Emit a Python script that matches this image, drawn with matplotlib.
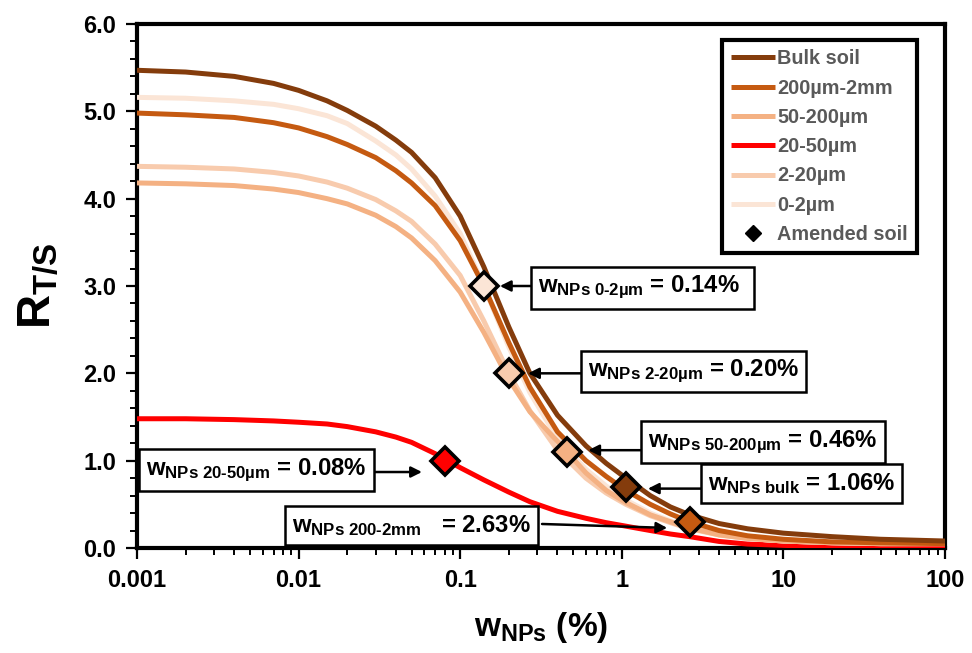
import matplotlib
matplotlib.use("Agg")
import matplotlib.pyplot as plt
from matplotlib.ticker import MultipleLocator, LogLocator, NullFormatter
from matplotlib.lines import Line2D

plt.rcParams['font.family'] = ['Liberation Sans', 'DejaVu Sans']
plt.rcParams['font.weight'] = 'bold'
plt.rcParams['mathtext.fontset'] = 'custom'
plt.rcParams['mathtext.rm'] = 'Liberation Sans:bold'
plt.rcParams['mathtext.bf'] = 'Liberation Sans:bold'
plt.rcParams['mathtext.it'] = 'Liberation Sans:bold'

w = [0.001, 0.002, 0.004, 0.007, 0.01, 0.015, 0.02, 0.03, 0.04, 0.05, 0.07,
     0.1, 0.14, 0.2, 0.27, 0.4, 0.6, 0.8, 1.06, 1.5, 2, 2.63, 4, 6, 10, 20,
     40, 100]

bulk = [5.47, 5.45, 5.4, 5.32, 5.24, 5.12, 5.01, 4.83, 4.67, 4.53, 4.24,
        3.8, 3.22, 2.53, 2.0, 1.52, 1.17, 0.97, 0.8, 0.6, 0.47, 0.38, 0.28,
        0.22, 0.17, 0.13, 0.1, 0.08]
s200_2mm = [4.98, 4.96, 4.93, 4.87, 4.81, 4.71, 4.62, 4.47, 4.32, 4.18, 3.92,
            3.52, 3.0, 2.35, 1.84, 1.33, 1.0, 0.82, 0.66, 0.5, 0.39, 0.3, 0.2,
            0.14, 0.1, 0.07, 0.06, 0.05]
s50_200 = [4.18, 4.17, 4.15, 4.11, 4.07, 4.0, 3.94, 3.81, 3.68, 3.55, 3.29,
           2.93, 2.47, 1.93, 1.56, 1.22, 0.86, 0.66, 0.52, 0.38, 0.3, 0.23,
           0.15, 0.11, 0.08, 0.06, 0.05, 0.05]
s20_50 = [1.48, 1.48, 1.47, 1.455, 1.44, 1.42, 1.39, 1.33, 1.27, 1.21, 1.08,
          0.92, 0.78, 0.64, 0.53, 0.42, 0.34, 0.29, 0.25, 0.2, 0.16, 0.13,
          0.075, 0.045, 0.03, 0.015, 0.01, 0.005]
s2_20 = [4.37, 4.36, 4.34, 4.3, 4.26, 4.19, 4.12, 3.99, 3.86, 3.74, 3.48,
         3.12, 2.6, 2.0, 1.57, 1.12, 0.8, 0.63, 0.5, 0.37, 0.29, 0.22, 0.15,
         0.11, 0.08, 0.06, 0.05, 0.05]
s0_2 = [5.16, 5.15, 5.12, 5.08, 5.03, 4.95, 4.86, 4.66, 4.5, 4.34, 4.03,
        3.6, 3.0, 2.3, 1.78, 1.25, 0.9, 0.71, 0.55, 0.4, 0.31, 0.24, 0.16,
        0.11, 0.08, 0.06, 0.05, 0.05]

# amended soil points
amend_w = [0.14, 0.20, 0.46, 1.06, 2.63, 0.08]
amend_r = [3.0, 2.0, 1.1, 0.7, 0.3, 1.0]
amend_names = ['0-2µm', '2-20µm', '50-200µm', 'bulk', '200-2mm', '20-50µm']
amend_vals = ['0.14%', '0.20%', '0.46%', '1.06%', '2.63%', '0.08%']

series = [("Bulk soil", bulk, "#843C0C"),
          ("200µm-2mm", s200_2mm, "#C55A11"),
          ("50-200µm", s50_200, "#F4B183"),
          ("20-50µm", s20_50, "#FF0000"),
          ("2-20µm", s2_20, "#F8CBAD"),
          ("0-2µm", s0_2, "#FBE5D6")]
amend_colors = ["#FBE5D6", "#F8CBAD", "#F4B183", "#843C0C", "#C55A11", "#FF0000"]

xticks = [0.001, 0.01, 0.1, 1, 10, 100]
xtick_labels = ['0.001', '0.01', '0.1', '1', '10', '100']

fig = plt.figure(figsize=(9.72, 6.53), dpi=100)
ax = fig.add_axes([137/972, 1-548/653, (945-137)/972, (548-24)/653])

handles = []
for (label, vals, color), z in zip(series, [8, 7, 6, 3, 4, 5]):
    h, = ax.plot(w, vals, '-', color=color, lw=3.6, label=label, zorder=z,
                 solid_capstyle='butt', solid_joinstyle='round')
    handles.append(h)

for xv, yv, fc in zip(amend_w, amend_r, amend_colors):
    ax.plot(xv, yv, 'D', ms=14, mfc=fc, mec='black', mew=2.6, zorder=10)

handles.append(Line2D([], [], ls='none', marker='D', ms=8.5, mfc='black',
                      mec='black', label='Amended soil'))

# annotation boxes: text position, arrow start, arrow tip (data coords)
text_pos = [(0.303, 2.98), (0.618, 2.02), (1.45, 1.21), (3.41, 0.74),
            (0.0091, 0.26), (0.00114, 0.89)]
arrow_from = [(0.274, 3.0), (0.56, 2.0), (1.31, 1.12), (3.09, 0.68),
              (0.321, 0.275), (0.0273, 0.87)]
arrow_to = [(0.176, 3.0), (0.263, 2.0), (0.62, 1.12), (1.45, 0.68),
            (1.91, 0.23), (0.058, 0.87)]

for name, val, tp, af, at in zip(amend_names, amend_vals, text_pos,
                                 arrow_from, arrow_to):
    gap = '   ' if name == '200-2mm' else ' '
    tail = '\u00a0\u00a0' if name == '0-2µm' else ''
    txt = r'$\mathbf{w}_{\text{NPs ' + name + '}}$' + gap + '= ' + val + tail
    ax.text(tp[0], tp[1], txt, fontsize=17.2, fontweight='bold', ha='left',
            va='center', zorder=12,
            bbox=dict(boxstyle='square,pad=0.3', fc='white', ec='black', lw=1.8))
    ax.annotate('', xy=at, xytext=af, zorder=11,
                arrowprops=dict(arrowstyle='-|>', color='black', lw=1.8,
                                mutation_scale=16, shrinkA=0, shrinkB=0))

ax.set_xscale('log')
ax.set_xlim(0.001, 100)
ax.set_ylim(0, 6)
ax.set_xticks(xticks, xtick_labels)
ax.xaxis.set_minor_locator(LogLocator(base=10, subs=range(2, 10), numticks=20))
ax.xaxis.set_minor_formatter(NullFormatter())
ax.yaxis.set_major_locator(MultipleLocator(1.0))
ax.yaxis.set_minor_locator(MultipleLocator(0.2))
ax.yaxis.set_major_formatter(lambda v, p: '%.1f' % v)

ax.tick_params(which='major', direction='out', length=8, width=1.6,
               labelsize=17, pad=7)
ax.tick_params(which='minor', direction='out', length=5, width=1.4)
for lbl in ax.get_xticklabels() + ax.get_yticklabels():
    lbl.set_fontweight('bold')
for sp in ax.spines.values():
    sp.set_linewidth(3)

ax.set_xlabel(r'$\mathbf{w}_{\mathbf{NPs}}$ (%)', fontsize=24, fontweight='bold',
              labelpad=13)
ax.set_ylabel(r'$\mathbf{R}_{\mathbf{T/S}}$', fontsize=34, fontweight='bold',
              labelpad=16)

leg = ax.legend(handles=handles, loc='upper right', bbox_to_anchor=(0.9653, 0.969),
                borderaxespad=0, fancybox=False, framealpha=1, edgecolor='black',
                prop={'size': 14.3, 'weight': 'bold'}, handlelength=2.2,
                handletextpad=0.12, labelspacing=0.52, borderpad=0.45)
leg.get_frame().set_linewidth(3)
for t in leg.get_texts():
    t.set_color('#595959')
leg.set_zorder(20)

fig.savefig('out.png', dpi=100)
